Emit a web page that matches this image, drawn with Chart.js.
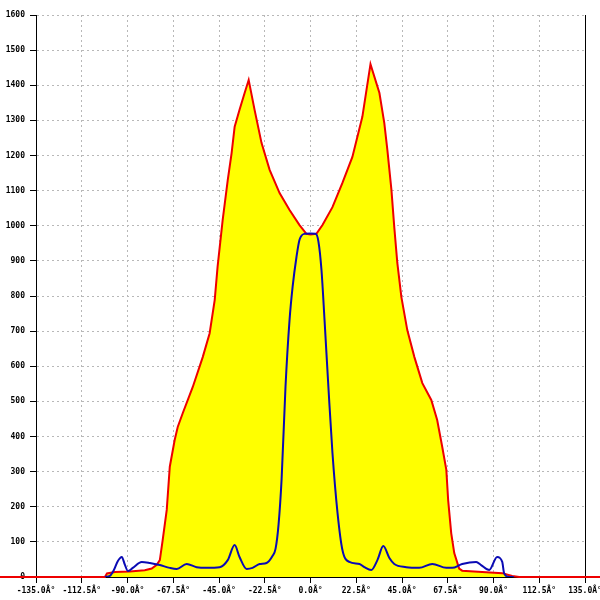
<!DOCTYPE html>
<html>
<head>
<meta charset="utf-8">
<script src="https://cdn.jsdelivr.net/npm/chart.js@4/dist/chart.umd.min.js"></script>
<style>
  html, body { margin: 0; padding: 0; background: #fff; }
  #wrap { width: 600px; height: 600px; }
</style>
</head>
<body>
<div id="wrap"><canvas id="c" width="600" height="600"></canvas></div>
<script>
'use strict';

/* ── Data (angle in degrees, value) ───────────────────────────────── */
const xTicks = [-135, -112.5, -90, -67.5, -45, -22.5, 0, 22.5, 45, 67.5, 90, 112.5, 135];
const yTicks = [0, 100, 200, 300, 400, 500, 600, 700, 800, 900, 1000, 1100, 1200, 1300, 1400, 1500, 1600];

// outer envelope (red line, yellow fill)
const envDeg = [-180, -101.1, -100.1, -96.2, -88.9, -81.5, -78.1, -75.6, -74.1, -72.7, -70.7,
  -69.2, -66.8, -65.3, -62.8, -57.9, -53.0, -49.6, -47.1, -45.7, -43.2, -40.7, -38.8, -37.3,
  -34.9, -32.4, -30.4, -27.5, -24.1, -20.1, -15.2, -10.3, -5.4, -2.0, 0, 2.9, 5.9, 10.8, 15.7,
  20.6, 25.5, 29.5, 33.9, 36.3, 37.8, 39.8, 41.2, 42.7, 44.7, 47.6, 51.1, 55.0, 59.4, 62.3,
  64.8, 66.8, 67.7, 69.2, 70.7, 73.1, 74.6, 84.4, 94.3, 99.2, 102.6, 180];
const envVal = [0, 0, 10, 14, 16, 19, 24, 35, 48, 105, 191,
  314, 390, 427, 467, 541, 626, 694, 789, 883, 1016, 1130, 1207, 1282,
  1330, 1378, 1415, 1330, 1236, 1159, 1093, 1045, 1002, 977, 975, 977, 1002, 1053, 1122,
  1196, 1310, 1460, 1378, 1292, 1216, 1102, 996, 894, 797, 703, 626, 552, 504, 447,
  370, 305, 219, 125, 68, 24, 18, 14, 11, 3, 0, 0];

// pattern (blue line)
const patDeg = [-101.1, -98.7, -96.7, -94.8, -92.8, -91.3, -89.8, -87.4, -83.0, -79.0, -74.1,
  -69.2, -65.8, -60.9, -56.0, -51.1, -44.7, -40.7, -37.3, -34.9, -31.4, -28.5, -25.0, -21.6,
  -18.7, -17.2, -15.7, -14.2, -12.3, -10.3, -8.8, -6.9, -5.4, -2.9, 0, 2.5, 3.9, 5.4, 6.9,
  8.8, 10.8, 13.3, 15.7, 19.1, 24.1, 26.5, 29.9, 32.9, 35.8, 38.8, 41.2, 47.1, 53.5, 59.9,
  66.8, 69.7, 74.6, 81.5, 83.9, 87.9, 91.8, 94.3, 95.2, 97.7, 100.0];
const patVal = [0, 3, 20, 45, 57, 35, 17, 26, 43, 40, 34,
  26, 23, 37, 28, 26, 28, 48, 91, 57, 23, 26, 37, 40,
  60, 80, 150, 280, 541, 732, 826, 911, 960, 977, 978, 977, 955, 874, 732,
  541, 353, 182, 77, 43, 37, 28, 20, 48, 88, 54, 37, 28, 26, 37,
  26, 26, 37, 43, 34, 20, 57, 43, 11, 0, 0];

/* ── Design tokens ────────────────────────────────────────────────── */
const C = {
  red:    '#ee0000',
  yellow: '#ffff00',
  blue:   '#0a0ab4',
  grid:   '#b8b8b8',
  axis:   '#000',
  text:   '#000',
};
const FONT = { family: '"DejaVu Sans Mono", monospace', size: 8, weight: 'bold' };

const toPoints = (xs, ys) => xs.map((x, i) => ({ x, y: ys[i] }));

new Chart(document.getElementById('c'), {
  type: 'line',
  data: {
    datasets: [
      {
        label:        'pattern',
        data:         toPoints(patDeg, patVal),
        borderColor:  C.blue,
        borderWidth:  2,
        pointRadius:  0,
        fill:         false,
        cubicInterpolationMode: 'monotone',
        order:        1,
      },
      {
        label:           'envelope',
        data:            toPoints(envDeg, envVal),
        borderColor:     C.red,
        backgroundColor: C.yellow,
        borderWidth:     2,
        pointRadius:     0,
        fill:            'origin',
        tension:         0,
        clip:            false,
        order:           2,
      },
    ],
  },
  options: {
    responsive: false,
    animation:  false,
    layout:     { padding: { top: 15, left: 0, right: 0, bottom: 0 } },
    plugins:    { legend: { display: false }, tooltip: { enabled: false } },
    scales: {
      x: {
        type: 'linear',
        min:  -135,
        max:  135,
        z:    1,
        afterBuildTicks: s => { s.ticks = xTicks.map(v => ({ value: v })); },
        afterFit: s => { s.height = 23; s.paddingLeft = 0; s.paddingRight = 0; },
        grid:   { color: C.grid, lineWidth: 1, tickLength: 6, tickColor: C.axis, tickBorderDash: [] },
        border: { display: true, color: C.axis, width: 1, dash: [2, 3] },
        ticks:  {
          color: C.text, font: FONT, padding: 3, maxRotation: 0, autoSkip: false,
          callback: v => v.toFixed(1) + 'Â°',
        },
      },
      y: {
        min: 0,
        max: 1600,
        z:   1,
        afterBuildTicks: s => { s.ticks = yTicks.map(v => ({ value: v })); },
        afterFit: s => { s.width = 36; s.paddingTop = 0; s.paddingBottom = 0; },
        grid:   { color: C.grid, lineWidth: 1, tickLength: 6, tickColor: C.axis, tickBorderDash: [] },
        border: { display: true, color: C.axis, width: 1, dash: [2, 3] },
        ticks:  { color: C.text, font: FONT, padding: 5, autoSkip: false, callback: v => String(v) },
      },
      yRight: {
        position: 'right',
        min: 0,
        max: 1600,
        afterFit: s => { s.width = 15; },
        grid:   { display: false },
        border: { display: true, color: C.axis, width: 1 },
        ticks:  { display: false },
      },
    },
  },
});
</script>
</body>
</html>
